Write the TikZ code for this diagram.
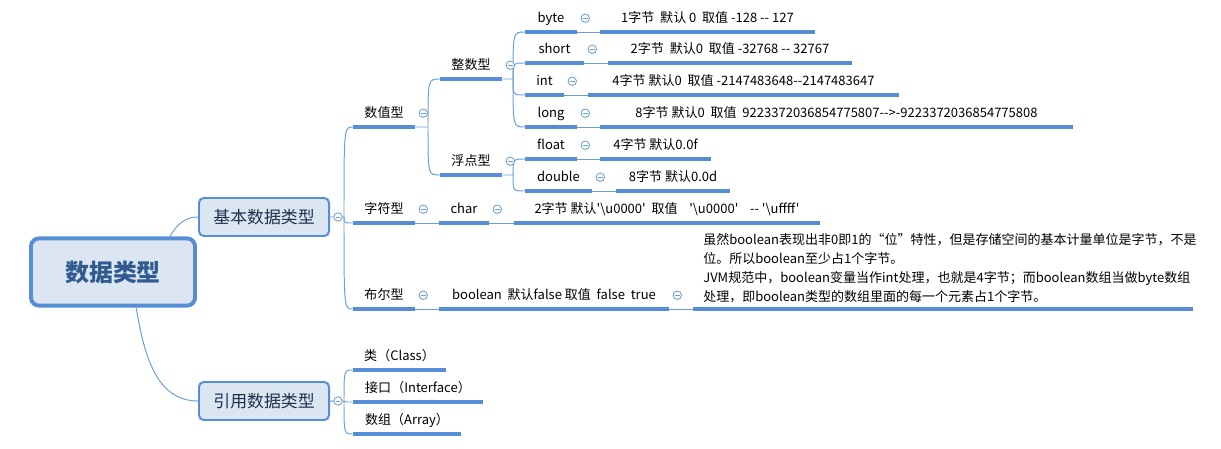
\documentclass[tikz,border=0pt]{standalone}
\usepackage{fontspec}
\newfontfamily\cnfont{Noto Sans CJK SC}
\usepackage{tikz}

\definecolor{ulblue}{HTML}{558ED5}
\definecolor{lnblue}{HTML}{6C9EDA}
\definecolor{boxfill}{HTML}{DCE6F2}
\definecolor{roottext}{HTML}{2F5B8F}
\definecolor{boxtext}{HTML}{1E2E4C}

\tikzset{
    root/.style={draw=ulblue, fill=boxfill, line width=2.8pt, rounded corners=0.2cm, minimum width=4.1cm, minimum height=1.68cm, text=roottext, font=\cnfont\bfseries\fontsize{17pt}{20pt}\selectfont},
    mainbox/.style={draw=ulblue, fill=boxfill, line width=1.4pt, rounded corners=0.12cm, minimum width=3.25cm, minimum height=0.95cm, text=boxtext, font=\cnfont\fontsize{12pt}{14pt}\selectfont},
    topic/.style={anchor=south, minimum width=#1*0.025cm, minimum height=0.675cm, inner xsep=2pt, inner ysep=0pt, text height=0.8em, text depth=0.2em, font=\cnfont\fontsize{9.25pt}{11pt}\selectfont},
    desc/.style={anchor=south west, align=left, inner xsep=0.25cm, inner ysep=0.14cm, font=\cnfont\fontsize{9.25pt}{13.5pt}\selectfont},
    conn/.style={draw=lnblue, line width=0.7pt},
    ul/.style={draw=ulblue, line width=2.4pt},
    fold/.style={circle, draw=lnblue, fill=white, line width=0.6pt, minimum size=6pt, inner sep=0pt,
        path picture={\draw[lnblue, line width=0.6pt] ([xshift=-1.6pt]path picture bounding box.center) -- ([xshift=1.6pt]path picture bounding box.center);}}
}

\begin{document}
\begin{tikzpicture}[x=0.025cm, y=-0.025cm]
    \useasboundingbox (0,0) rectangle (1221,448);

    \node[root] (A) at (113,272) {数据类型};
    \node[mainbox] (B) at (264,217) {基本数据类型};
    \node[mainbox] (C) at (264,401) {引用数据类型};

    \node[topic=62] (B1) at (384,127) {数值型};
    \node[topic=62] (B2) at (384,223) {字符型};
    \node[topic=62] (B3) at (384,309) {布尔型};
    \node[topic=62] (B11) at (471,79) {整数型};
    \node[topic=62] (B12) at (471,175) {浮点型};

    \node[topic=52] (B111) at (551,32) {byte};
    \node[topic=59] (B112) at (554.5,63) {short};
    \node[topic=39] (B113) at (544.5,95) {int};
    \node[topic=52] (B114) at (551,127) {long};
    \node[topic=52] (B121) at (551,159) {float};
    \node[topic=67] (B122) at (558.5,191) {double};
    \node[topic=50] (B21) at (464,223) {char};
    \node[topic=230] (B31) at (554,309) {boolean\ \ 默认false 取值\ \ false\ \ true};

    \node[topic=215] (D111) at (707.5,32) {1字节\ \ 默认 0\ \ 取值 -128 -- 127};
    \node[topic=244] (D112) at (730,63) {2字节\ \ 默认0\ \ 取值 -32768 -- 32767};
    \node[topic=311] (D113) at (743.5,95) {4字节 默认0\ \ 取值 -2147483648--2147483647};
    \node[topic=473] (D114) at (836.5,127) {8字节 默认0\ \ 取值\ \ 9223372036854775807-->-9223372036854775808};
    \node[topic=111] (D121) at (655.5,159) {4字节 默认0.0f};
    \node[topic=114] (D122) at (673,191) {8字节 默认0.0d};
    \node[topic=306] (D21) at (667,223) {2字节 默认'\textbackslash u0000'\ \ 取值\ \ \ \ '\textbackslash u0000'\ \ \ \ -- '\textbackslash uffff'};
    \node[desc] (D31) at (693,309) {虽然boolean表现出非0即1的“位”特性，但是存储空间的基本计量单位是字节，不是\\位。所以boolean至少占1个字节。\\JVM规范中，boolean变量当作int处理，也就是4字节；而boolean数组当做byte数组\\处理，即boolean类型的数组里面的每一个元素占1个字节。};

    \node[topic=93] (C1) at (399.5,370) {类（Class）};
    \node[topic=130] (C2) at (418,402) {接口（Interface）};
    \node[topic=108] (C3) at (407,434) {数组（Array）};

    \coordinate (JB) at (344,217);
    \coordinate (JC) at (344,401);
    \coordinate (J1) at (428,127);
    \coordinate (J11) at (513,79);
    \coordinate (J12) at (513,175);

    \draw [conn] (A.32) to[out=60, in=180] (B.west)
                 (A.-57) to[out=-80, in=180] (C.west)
                 (B.east) -- (JB)
                 (C.east) -- (JC)
                 (B1.south east) -- (J1)
                 (B11.south east) -- (J11)
                 (B12.south east) -- (J12);

    \foreach \j/\n in {JB/B1, JB/B2, JB/B3, JC/C1, JC/C2, JC/C3, J1/B11, J1/B12, J11/B111, J11/B112, J11/B113, J11/B114, J12/B121, J12/B122}
        \draw [conn] (\j) .. controls (\j |- \n.south west) .. (\n.south west);

    \foreach \a/\b in {B111/D111, B112/D112, B113/D113, B114/D114, B121/D121, B122/D122, B2/B21, B21/D21, B3/B31, B31/D31}
        \draw [conn] (\a.south east) -- (\b.south west);

    \foreach \n in {B1, B2, B3, B11, B12, B111, B112, B113, B114, B121, B122, B21, B31, D111, D112, D113, D114, D121, D122, D21, C1, C2, C3}
        \draw [ul] (\n.south west) -- (\n.south east);
    \draw [ul] (D31.south west) -- ++(500,0);

    \foreach \n in {B, C, B1, B2, B3, B11, B12, B111, B112, B113, B114, B121, B122, B21, B31}
        \node[fold] (f\n) at ([xshift=0.2cm]\n.east) {};
\end{tikzpicture}
\end{document}
